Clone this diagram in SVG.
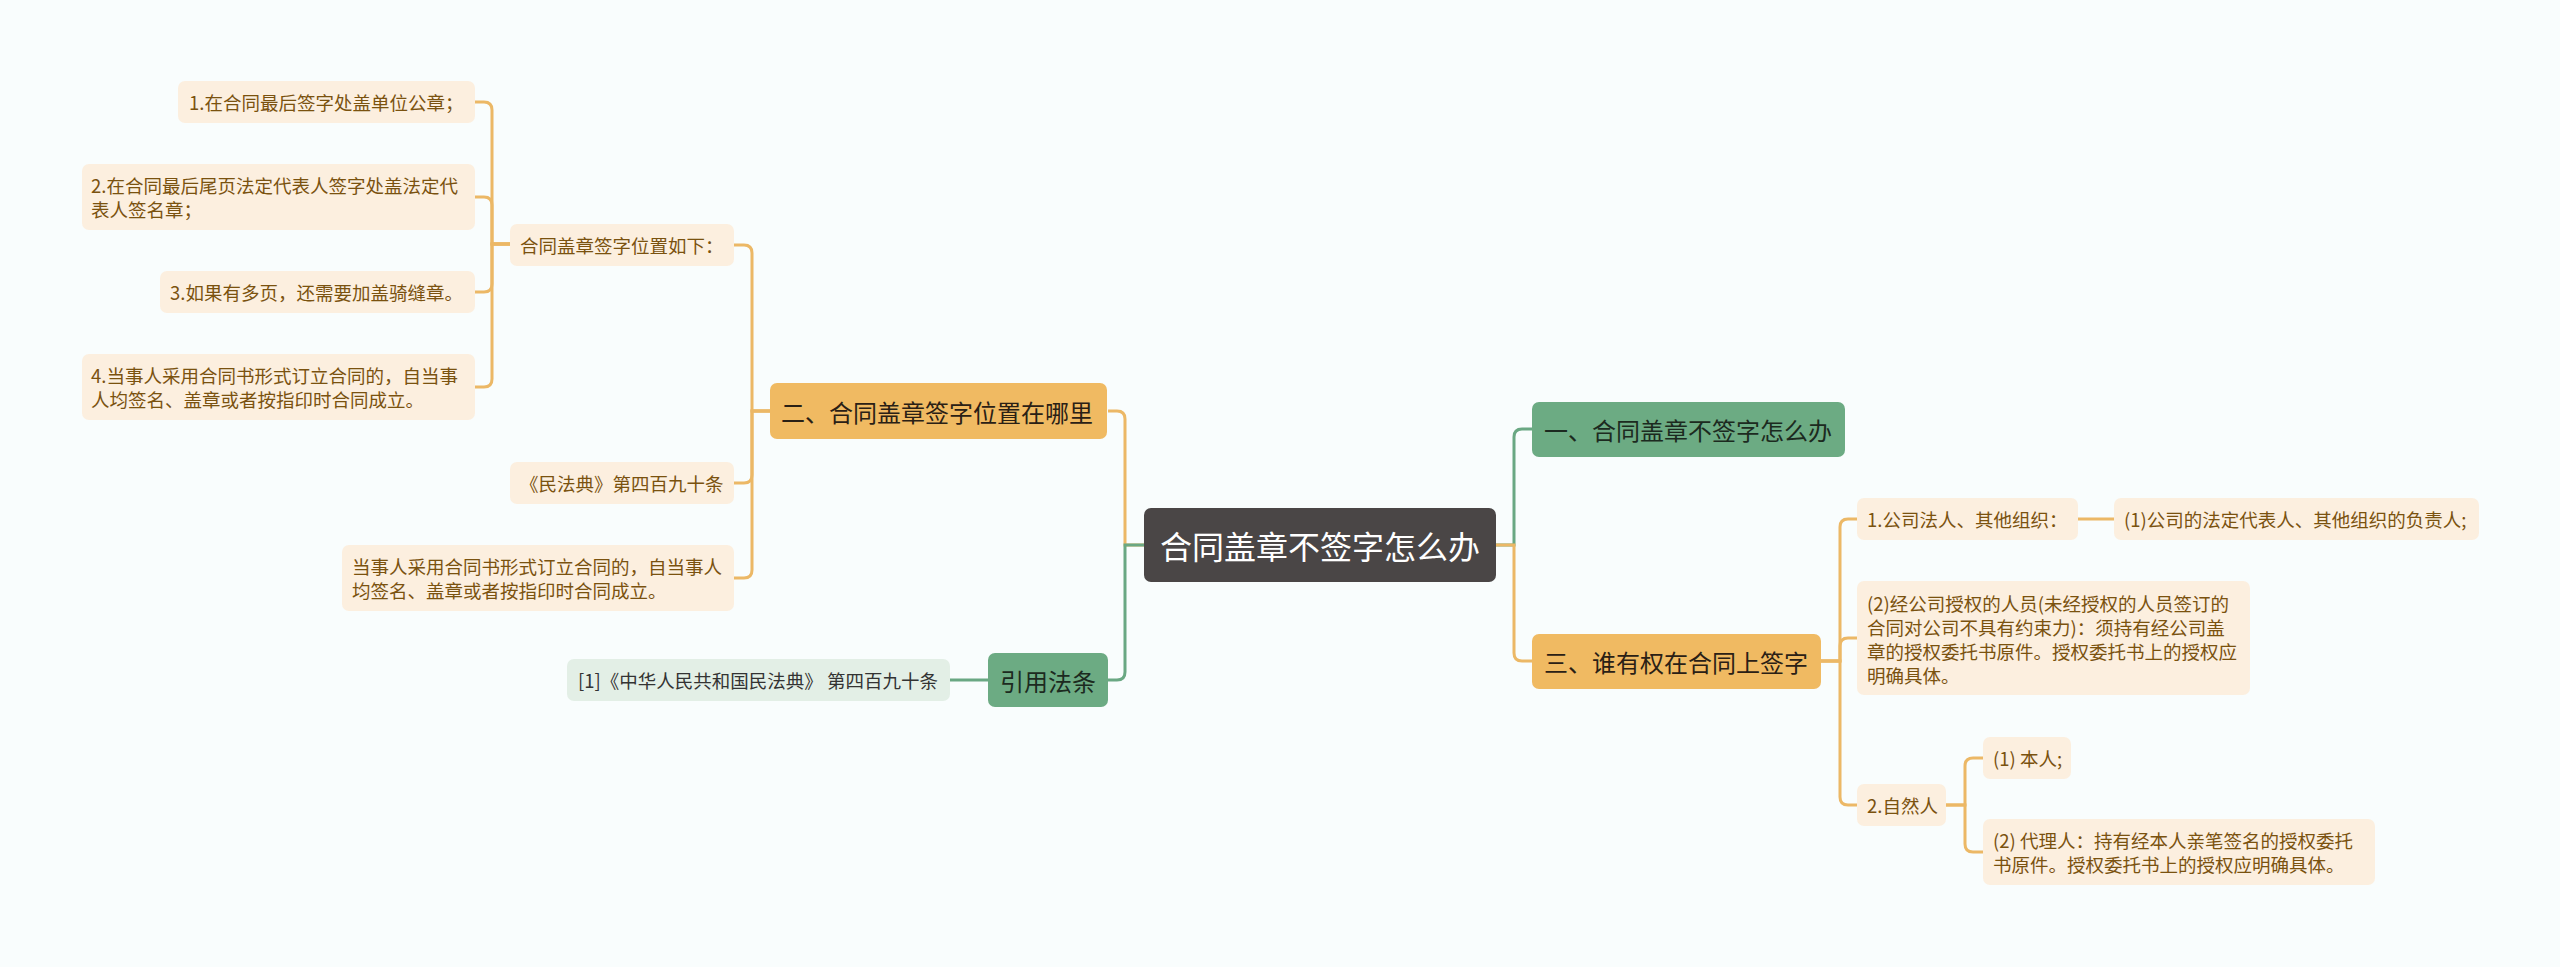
<svg xmlns="http://www.w3.org/2000/svg" width="2560" height="967" viewBox="0 0 2560 967">
<style>
text{font-family:"Noto Sans CJK SC","Noto Sans",sans-serif;dominant-baseline:central}
.leaf rect{fill:#fcefdf}
.leaf text{font-size:18.5px;fill:#7a520f}
.gleaf rect{fill:#e3efe6}
.gleaf text{font-size:18.5px;fill:#333333}
.y1 rect{fill:#f0ba62}
.y1 text{font-size:24px;fill:#2a2015}
.g1 rect{fill:#6cab83}
.g1 text{font-size:24px;fill:#1c2a20}
.root rect{fill:#4a4646}
.root text{font-size:32px;fill:#ffffff}
.cy{fill:none;stroke:#ecb866;stroke-width:3}
.cg{fill:none;stroke:#6aa883;stroke-width:3}
</style>
<rect width="2560" height="967" fill="#f9fdfd"/>
<g id="connectors">
<path class="cy" d="M475 102 H484 Q492 102 492 110 V244 H510"/>
<path class="cy" d="M475 197 H484 Q492 197 492 205 V244 H510"/>
<path class="cy" d="M475 292 H484 Q492 292 492 284 V244 H510"/>
<path class="cy" d="M475 387 H484 Q492 387 492 379 V244 H510"/>
<path class="cy" d="M734 245 H744 Q752 245 752 253 V411 H770"/>
<path class="cy" d="M734 483 H744 Q752 483 752 475 V411 H770"/>
<path class="cy" d="M734 578 H744 Q752 578 752 570 V411 H770"/>
<path class="cy" d="M1108 411 H1117 Q1125 411 1125 419 V545 H1144"/>
<path class="cg" d="M1108 680 H1117 Q1125 680 1125 672 V545 H1144"/>
<path class="cg" d="M950 680 H988"/>
<path class="cg" d="M1496 545 H1514 V437 Q1514 429 1522 429 H1532"/>
<path class="cy" d="M1496 545 H1514 V653 Q1514 661 1522 661 H1532"/>
<path class="cy" d="M1821 661 H1840 V527 Q1840 519 1848 519 H1857"/>
<path class="cy" d="M1821 661 H1840 V646 Q1840 638 1848 638 H1857"/>
<path class="cy" d="M1821 661 H1840 V797 Q1840 805 1848 805 H1857"/>
<path class="cy" d="M2078 519 H2114"/>
<path class="cy" d="M1946 805 H1965 V766 Q1965 758 1973 758 H1983"/>
<path class="cy" d="M1946 805 H1965 V844 Q1965 852 1973 852 H1983"/>
</g>
<g id="root" class="root"><rect x="1144" y="508" width="352" height="74" rx="7"/><text x="1160" y="545">合同盖章不签字怎么办</text></g>
<g id="n-yi" class="g1"><rect x="1532" y="402" width="313" height="55" rx="7"/><text x="1544" y="429">一、合同盖章不签字怎么办</text></g>
<g id="n-san" class="y1"><rect x="1532" y="634" width="289" height="55" rx="7"/><text x="1544" y="661">三、谁有权在合同上签字</text></g>
<g id="n-er" class="y1"><rect x="770" y="383" width="337" height="56" rx="7"/><text x="781" y="411">二、合同盖章签字位置在哪里</text></g>
<g id="n-yinyong" class="g1"><rect x="988" y="653" width="120" height="54" rx="7"/><text x="1000" y="680">引用法条</text></g>
<g id="n-fatiao" class="gleaf"><rect x="567" y="659" width="383" height="42" rx="7"/><text x="578" y="680">[1]《中华人民共和国民法典》 第四百九十条</text></g>
<g id="n-p1" class="leaf"><rect x="510" y="224" width="224" height="42" rx="7"/><text x="520" y="245">合同盖章签字位置如下：</text></g>
<g id="n-p2" class="leaf"><rect x="510" y="462" width="224" height="42" rx="7"/><text x="520" y="483">《民法典》第四百九十条</text></g>
<g id="n-p3" class="leaf"><rect x="342" y="545" width="392" height="66" rx="7"/><text x="352" y="566">当事人采用合同书形式订立合同的，自当事人</text><text x="352" y="590">均签名、盖章或者按指印时合同成立。</text></g>
<g id="n-n1" class="leaf"><rect x="178" y="81" width="297" height="42" rx="7"/><text x="189" y="102">1.在合同最后签字处盖单位公章；</text></g>
<g id="n-n2" class="leaf"><rect x="82" y="164" width="393" height="66" rx="7"/><text x="91" y="185">2.在合同最后尾页法定代表人签字处盖法定代</text><text x="91" y="209">表人签名章；</text></g>
<g id="n-n3" class="leaf"><rect x="160" y="271" width="315" height="42" rx="7"/><text x="170" y="292">3.如果有多页，还需要加盖骑缝章。</text></g>
<g id="n-n4" class="leaf"><rect x="82" y="354" width="393" height="66" rx="7"/><text x="91" y="375">4.当事人采用合同书形式订立合同的，自当事</text><text x="91" y="399">人均签名、盖章或者按指印时合同成立。</text></g>
<g id="n-r1" class="leaf"><rect x="1857" y="498" width="221" height="42" rx="7"/><text x="1867" y="519">1.公司法人、其他组织：</text></g>
<g id="n-r2" class="leaf"><rect x="2114" y="498" width="365" height="42" rx="7"/><text x="2124" y="519">(1)公司的法定代表人、其他组织的负责人;</text></g>
<g id="n-r3" class="leaf"><rect x="1857" y="581" width="393" height="114" rx="7"/><text x="1867" y="603">(2)经公司授权的人员(未经授权的人员签订的</text><text x="1867" y="627">合同对公司不具有约束力)：须持有经公司盖</text><text x="1867" y="651">章的授权委托书原件。授权委托书上的授权应</text><text x="1867" y="675">明确具体。</text></g>
<g id="n-r4" class="leaf"><rect x="1857" y="784" width="89" height="42" rx="7"/><text x="1867" y="805">2.自然人</text></g>
<g id="n-r5" class="leaf"><rect x="1983" y="737" width="88" height="42" rx="7"/><text x="1993" y="758">(1) 本人;</text></g>
<g id="n-r6" class="leaf"><rect x="1983" y="819" width="392" height="66" rx="7"/><text x="1993" y="840">(2) 代理人：持有经本人亲笔签名的授权委托</text><text x="1993" y="864">书原件。授权委托书上的授权应明确具体。</text></g>
</svg>
